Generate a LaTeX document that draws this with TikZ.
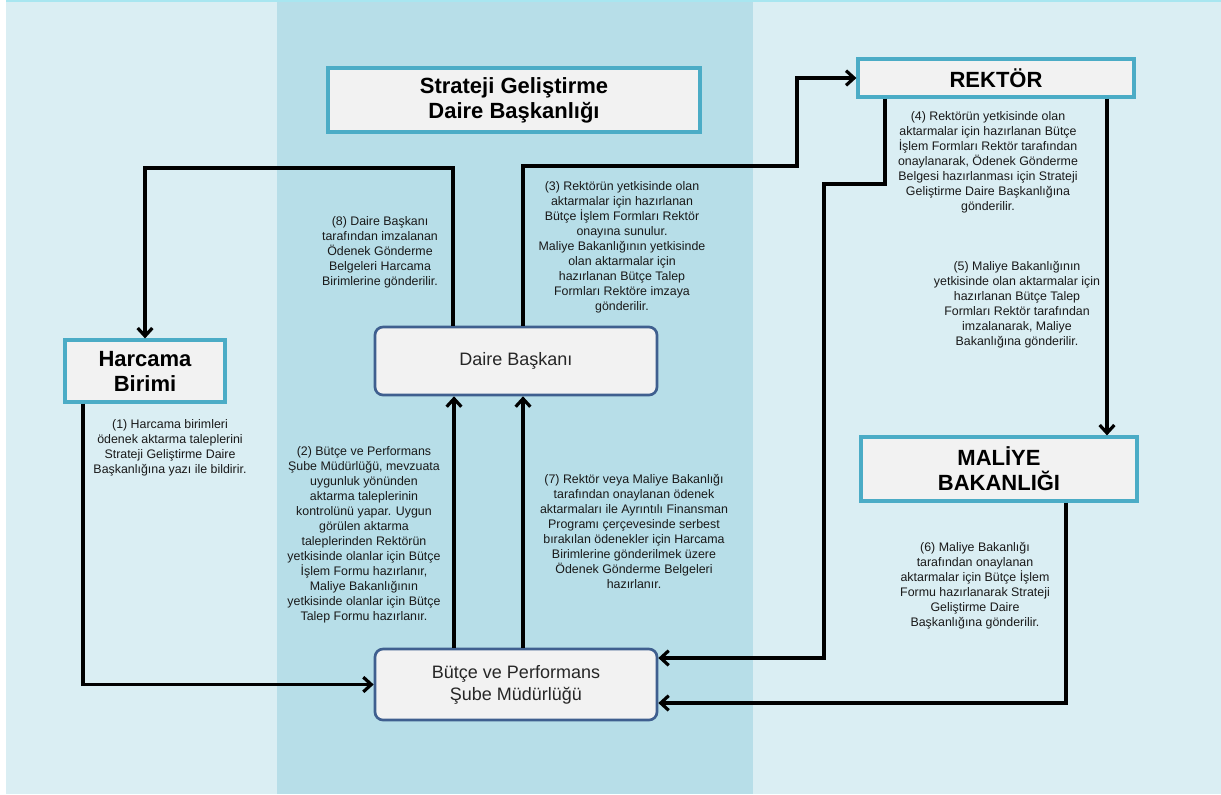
\documentclass[tikz,border=0pt]{standalone}
\usepackage{fontspec}
\setmainfont{Liberation Sans}
\usetikzlibrary{arrows.meta}

\definecolor{bglight}{HTML}{DAEEF3}
\definecolor{bgband}{HTML}{B7DEE8}
\definecolor{boxteal}{HTML}{4BACC6}
\definecolor{boxfill}{HTML}{F2F2F2}
\definecolor{boxnavy}{HTML}{3F5F8F}
\definecolor{topline}{HTML}{A8E6F0}

\begin{document}
\begin{tikzpicture}[x=0.75pt, y=-0.75pt,
    titlebox/.style={rectangle, draw=boxteal, line width=2.4pt, fill=boxfill, align=center, inner sep=0pt, font=\bfseries\fontsize{16.5}{18.75}\selectfont},
    unitbox/.style={rectangle, rounded corners=6pt, draw=boxnavy, line width=2pt, fill=boxfill, align=center, inner sep=0pt, text=black!85, font=\fontsize{13.5}{16.5}\selectfont, minimum width=211.5pt},
    note/.style={align=center, inner sep=0pt, text=black!90, font=\fontsize{9.3}{11.25}\selectfont},
    flow/.style={line width=2.4pt, -{Straight Barb[length=6pt,width=11pt]}}]
    % background bands
    \fill[bglight] (0,0) rectangle (1221,794);
    \fill[bgband] (277,0) rectangle (753,794);
    \fill[white] (0,0) rectangle (6,794);
    \fill[topline] (6,0) rectangle (1221,2);
    \useasboundingbox (0,0) rectangle (1221,794);

    \node (sgdb) [titlebox, minimum width=279pt, minimum height=48pt] at (514,100) {Strateji Geliştirme\\Daire Başkanlığı};
    \node (rektor) [titlebox, minimum width=207pt, minimum height=28.5pt] at (996,78) {REKTÖR};
    \node (harcama) [titlebox, minimum width=120pt, minimum height=46.5pt] at (145,371) {Harcama\\Birimi};
    \node (maliye) [titlebox, minimum width=207pt, minimum height=48pt] at (999,469) {MALİYE\\BAKANLIĞI};
    \node (daire) [unitbox, minimum height=51pt] at (516,361) {Daire Başkanı};
    \node (butce) [unitbox, minimum height=53.25pt] at (516,684.5) {Bütçe ve Performans\\Şube Müdürlüğü};

    % bends of the connectors
    \coordinate (k1) at (83,684.5);
    \coordinate (k2) at (454,500);
    \coordinate (k3) at (523,166);
    \coordinate (k3r) at (797,78);
    \coordinate (k4) at (885,184);
    \coordinate (k4b) at (824,658);
    \coordinate (k5) at (1107,300);
    \coordinate (k6) at (1066,703);
    \coordinate (k7) at (523,500);
    \coordinate (k8) at (453,168);

    \draw[flow] (k1 |- harcama.south) -- (k1) -- (butce.west);
    \draw[flow] (k2 |- butce.north) -- (k2 |- daire.south);
    \draw[flow] (k3 |- daire.north) -- (k3) -- (k3r |- k3) -- (k3r) -- (rektor.west);
    \draw[flow] (k4 |- rektor.south) -- (k4) -- (k4b |- k4) -- (k4b) -- (butce.east |- k4b);
    \draw[flow] (k5 |- rektor.south) -- (k5 |- maliye.north);
    \draw[flow] (k6 |- maliye.south) -- (k6) -- (butce.east |- k6);
    \draw[flow] (k7 |- butce.north) -- (k7 |- daire.south);
    \draw[flow] (k8 |- daire.north) -- (k8) -- (harcama.north |- k8) -- (harcama.north);

    % step notes
    \node (n1) [note] at (170,448) {(1) Harcama birimleri\\ödenek aktarma taleplerini\\Strateji Geliştirme Daire\\Başkanlığına yazı ile bildirir.};
    \node (n2) [note] at (364,535) {(2) Bütçe ve Performans\\Şube Müdürlüğü, mevzuata\\uygunluk yönünden\\aktarma taleplerinin\\kontrolünü yapar. Uygun\\görülen aktarma\\taleplerinden Rektörün\\yetkisinde olanlar için Bütçe\\İşlem Formu hazırlanır,\\Maliye Bakanlığının\\yetkisinde olanlar için Bütçe\\Talep Formu hazırlanır.};
    \node (n3) [note] at (622,247) {(3) Rektörün yetkisinde olan\\aktarmalar için hazırlanan\\Bütçe İşlem Formları Rektör\\onayına sunulur.\\Maliye Bakanlığının yetkisinde\\olan aktarmalar için\\hazırlanan Bütçe Talep\\Formları Rektöre imzaya\\gönderilir.};
    \node (n4) [note] at (988,162) {(4) Rektörün yetkisinde olan\\aktarmalar için hazırlanan Bütçe\\İşlem Formları Rektör tarafından\\onaylanarak, Ödenek Gönderme\\Belgesi hazırlanması için Strateji\\Geliştirme Daire Başkanlığına\\gönderilir.};
    \node (n5) [note] at (1017,305) {(5) Maliye Bakanlığının\\yetkisinde olan aktarmalar için\\hazırlanan Bütçe Talep\\Formları Rektör tarafından\\imzalanarak, Maliye\\Bakanlığına gönderilir.};
    \node (n6) [note] at (975,586) {(6) Maliye Bakanlığı\\tarafından onaylanan\\aktarmalar için Bütçe İşlem\\Formu hazırlanarak Strateji\\Geliştirme Daire\\Başkanlığına gönderilir.};
    \node (n7) [note] at (634,531) {(7) Rektör veya Maliye Bakanlığı\\tarafından onaylanan ödenek\\aktarmaları ile Ayrıntılı Finansman\\Programı çerçevesinde serbest\\bırakılan ödenekler için Harcama\\Birimlerine gönderilmek üzere\\Ödenek Gönderme Belgeleri\\hazırlanır.};
    \node (n8) [note] at (380,252) {(8) Daire Başkanı\\tarafından imzalanan\\Ödenek Gönderme\\Belgeleri Harcama\\Birimlerine gönderilir.};
\end{tikzpicture}
\end{document}
